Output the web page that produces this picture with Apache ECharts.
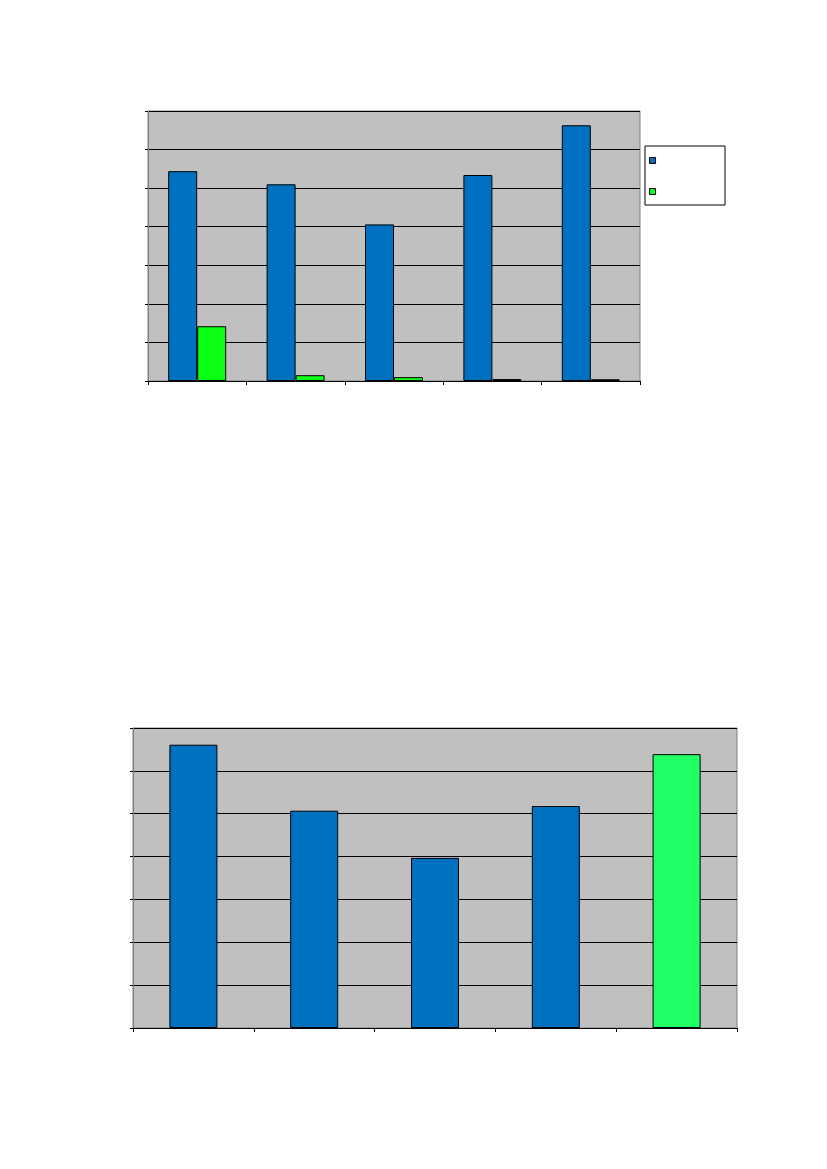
<!DOCTYPE html>
<html>
<head>
<meta charset="utf-8">
<script src="https://cdn.jsdelivr.net/npm/echarts@6/dist/echarts.min.js"></script>
<style>
html,body{margin:0;padding:0;background:#fff;}
#c{width:827px;height:1169px;}
</style>
</head>
<body>
<div id="c"></div>
<script>
const categories = ['A', 'B', 'C', 'D', 'E'];
const topSeriesA = [54.4, 51.0, 40.6, 53.4, 66.3];
const topSeriesB = [14.2, 1.5, 1.0, 0.5, 0.45];
const bottomValues = [66.1, 50.7, 39.7, 51.8, 63.9];
const seriesNames = ['Series A', 'Series B'];

const chart = echarts.init(document.getElementById('c'), null, {renderer: 'canvas'});

function yAx(gi) {
  return {
    type: 'value', gridIndex: gi, min: 0, max: 70, interval: 10,
    axisLabel: {show: false},
    axisLine: {show: true, lineStyle: {color: '#808080', width: 1}},
    axisTick: {show: true, inside: false, length: 3, lineStyle: {color: '#000'}},
    splitLine: {show: true, lineStyle: {color: '#000', width: 1}}
  };
}
function xAx(gi) {
  return {
    type: 'category', gridIndex: gi, data: categories,
    axisLabel: {show: false},
    axisLine: {show: true, lineStyle: {color: '#000', width: 1}},
    axisTick: {show: true, inside: false, length: 4, alignWithLabel: false, lineStyle: {color: '#000'}},
    splitLine: {show: false}
  };
}

chart.setOption({
  animation: false,
  backgroundColor: '#fff',
  grid: [
    {left: 148, top: 111, width: 492, height: 270, show: true, backgroundColor: '#c0c0c0', borderColor: '#808080', borderWidth: 1},
    {left: 133, top: 728, width: 604, height: 300, show: true, backgroundColor: '#c0c0c0', borderColor: '#808080', borderWidth: 1}
  ],
  legend: {
    orient: 'vertical', left: 645, top: 146,
    data: seriesNames,
    icon: 'rect', itemWidth: 6, itemHeight: 6, itemGap: 24,
    formatter: function () { return ''; },
    backgroundColor: '#fff', borderColor: '#000', borderWidth: 1,
    padding: [11, 69, 10, 4],
    itemStyle: {borderColor: '#000', borderWidth: 1},
    selectedMode: false
  },
  xAxis: [xAx(0), xAx(1)],
  yAxis: [yAx(0), yAx(1)],
  series: [
    {name: seriesNames[0], type: 'bar', xAxisIndex: 0, yAxisIndex: 0, data: topSeriesA,
      barWidth: 29, barGap: '0%',
      itemStyle: {color: '#0070c0', borderColor: '#000', borderWidth: 1}},
    {name: seriesNames[1], type: 'bar', xAxisIndex: 0, yAxisIndex: 0, data: topSeriesB,
      barWidth: 29, barGap: '0%',
      itemStyle: {color: '#0aff14', borderColor: '#000', borderWidth: 1}},
    {type: 'bar', xAxisIndex: 1, yAxisIndex: 1, data: bottomValues,
      barWidth: 48,
      itemStyle: {
        color: function (p) { return p.dataIndex === 4 ? '#22ff66' : '#0070c0'; },
        borderColor: '#000', borderWidth: 1
      }}
  ]
});
</script>
</body>
</html>
